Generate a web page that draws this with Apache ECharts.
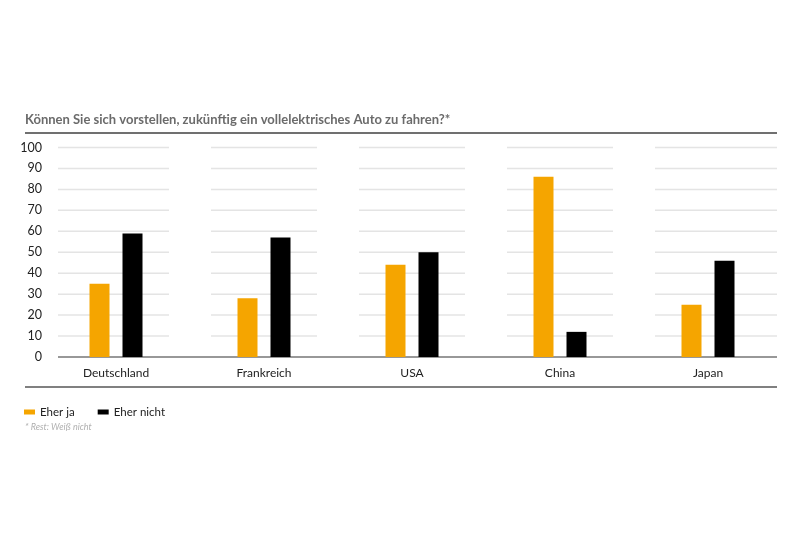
<!DOCTYPE html>
<html>
<head>
<meta charset="utf-8">
<script src="https://cdn.jsdelivr.net/npm/echarts@6/dist/echarts.min.js"></script>
<style>
  html, body { margin: 0; padding: 0; background: #fff; }
  #chart { width: 800px; height: 535px; }
</style>
</head>
<body>
<div id="chart"></div>
<script>
// Daten
var countries = ["Deutschland", "Frankreich", "USA", "China", "Japan"];
var eherJa = [35, 28, 44, 86, 25];
var eherNicht = [59, 57, 50, 12, 46];
var yTicks = [0, 10, 20, 30, 40, 50, 60, 70, 80, 90, 100];

var FONT = "Lato";
var ORANGE = "#f5a500";

// gridline segments: one item per category and tick
var gridItems = [];
countries.forEach(function (c, i) {
  yTicks.forEach(function (v) {
    gridItems.push([i, v]);
  });
});

var chart = echarts.init(document.getElementById("chart"));

chart.setOption({
  backgroundColor: "#fff",
  animation: false,
  title: {
    text: "Können Sie sich vorstellen, zukünftig ein vollelektrisches Auto zu fahren?*",
    left: 25,
    top: 113,
    padding: 0,
    textStyle: {
      fontFamily: FONT,
      fontSize: 13,
      fontWeight: "bold",
      color: "#6b6b6b"
    }
  },
  legend: {
    left: 19,
    top: 401,
    itemWidth: 11,
    itemHeight: 5,
    itemGap: 23,
    icon: "rect",
    textStyle: { fontFamily: FONT, fontSize: 11.5, color: "#222" },
    data: ["Eher ja", "Eher nicht"]
  },
  grid: {
    left: 42,
    right: 18,
    top: 147.5,
    bottom: 178,
    containLabel: false
  },
  xAxis: {
    type: "category",
    data: countries,
    axisLine: { show: false },
    axisTick: { show: false },
    axisLabel: {
      margin: 10,
      fontFamily: FONT,
      fontSize: 12,
      color: "#222"
    }
  },
  yAxis: {
    type: "value",
    min: 0,
    max: 100,
    interval: 10,
    axisLine: { show: false },
    axisTick: { show: false },
    splitLine: { show: false },
    axisLabel: {
      margin: 0,
      fontFamily: FONT,
      fontSize: 12.5,
      color: "#222"
    }
  },
  graphic: [
    {
      type: "line",
      shape: { x1: 25, y1: 133, x2: 777, y2: 133 },
      style: { stroke: "#707070", lineWidth: 2 }
    },
    {
      type: "line",
      shape: { x1: 25, y1: 387, x2: 777, y2: 387 },
      style: { stroke: "#808080", lineWidth: 2 }
    },
    {
      type: "text",
      left: 25,
      top: 423,
      style: {
        text: "* Rest: Weiß nicht",
        font: "italic 9px Lato",
        fill: "#b0b0b0"
      }
    }
  ],
  series: [
    {
      type: "custom",
      name: "grid",
      silent: true,
      z: 0,
      data: gridItems,
      renderItem: function (params, api) {
        var i = api.value(0);
        var v = api.value(1);
        var p = api.coord([i, v]);
        var band = api.size([1, 0])[0];
        var cs = params.coordSys;
        var gap = v === 0 ? 0 : 21;
        var x1 = p[0] - band / 2 + gap;
        var x2 = p[0] + band / 2 - gap;
        if (i === 0) x1 = cs.x + 16;
        if (i === countries.length - 1) x2 = cs.x + cs.width - 5;
        return {
          type: "line",
          shape: { x1: x1, y1: p[1], x2: x2, y2: p[1] },
          style: {
            stroke: v === 0 ? "#333" : "#e4e4e4",
            lineWidth: v === 0 ? 1.2 : 1.5
          }
        };
      }
    },
    {
      name: "Eher ja",
      type: "bar",
      data: eherJa,
      barWidth: 20,
      barGap: "65%",
      itemStyle: { color: ORANGE },
      z: 2
    },
    {
      name: "Eher nicht",
      type: "bar",
      data: eherNicht,
      barWidth: 20,
      barGap: "65%",
      itemStyle: { color: "#000" },
      z: 2
    }
  ]
});
</script>
</body>
</html>
